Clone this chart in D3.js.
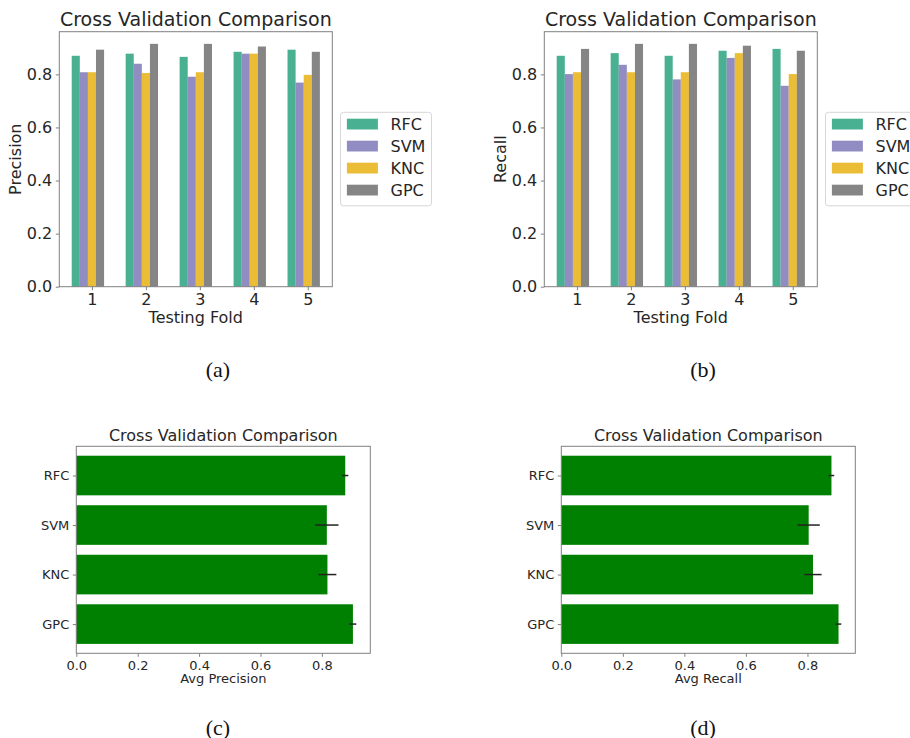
<!DOCTYPE html>
<html>
<head>
<meta charset="utf-8">
<script src="https://cdn.jsdelivr.net/npm/d3@7"></script>
<style>
  body { margin: 0; background: #fff; }
  text { font-family: "DejaVu Sans", sans-serif; fill: #262626; }
  .caption { font-family: "Liberation Serif", serif; fill: #111; }
</style>
</head>
<body>
<svg id="fig" width="910" height="738"></svg>
<script>
// ---- data ----
var folds = [1, 2, 3, 4, 5];
var models = ["RFC", "SVM", "KNC", "GPC"];
var modelColors = ["#1b9e77", "#7570b3", "#e6ab02", "#666666"];

// per-fold precision
var precRFC = [0.870, 0.878, 0.866, 0.885, 0.893];
var precSVM = [0.808, 0.840, 0.791, 0.878, 0.769];
var precKNC = [0.808, 0.805, 0.808, 0.878, 0.798];
var precGPC = [0.893, 0.915, 0.915, 0.905, 0.885];

// per-fold recall
var recRFC = [0.870, 0.880, 0.870, 0.889, 0.896];
var recSVM = [0.801, 0.836, 0.781, 0.862, 0.757];
var recKNC = [0.808, 0.808, 0.808, 0.880, 0.801];
var recGPC = [0.896, 0.915, 0.915, 0.908, 0.889];

// averages with error bars
var avgPrecision = [0.876, 0.816, 0.818, 0.901];
var precisionErr = [0.010, 0.038, 0.029, 0.011];
var avgRecall = [0.878, 0.804, 0.818, 0.901];
var recallErr = [0.009, 0.036, 0.028, 0.009];

var valueTicks = [0, 0.2, 0.4, 0.6, 0.8];
var title = "Cross Validation Comparison";

var svg = d3.select("#fig");

// draw a plain matplotlib-like frame around an axes
function frame(g, w, h) {
  g.append("rect")
    .attr("x", 0).attr("y", 0).attr("width", w).attr("height", h)
    .attr("fill", "none").attr("stroke", "#808080").attr("stroke-width", 1);
}

function styleAxis(sel, fontSize) {
  sel.select(".domain").remove();
  sel.selectAll(".tick line").attr("stroke", "#808080");
  sel.selectAll(".tick text")
    .attr("fill", "#262626")
    .style("font-family", "DejaVu Sans")
    .style("font-size", fontSize + "px");
}

// grouped bars per fold, panels (a) and (b)
function drawFolds(left, top, series, ylabel) {
  var w = 273, h = 255;
  var g = svg.append("g").attr("transform", "translate(" + left + "," + top + ")");

  var barW = 0.15;
  var x = d3.scaleLinear().domain([0.395, 5.455]).range([0, w]);
  var ymax = d3.max(series, function (s) { return d3.max(s); }) * 1.05;
  var y = d3.scaleLinear().domain([0, ymax]).range([h, 0]);

  series.forEach(function (vals, k) {
    g.append("g").selectAll("rect")
      .data(vals)
      .enter()
      .append("rect")
        .attr("x", function (d, i) { return x(folds[i] + (k - 2) * barW - barW / 2); })
        .attr("width", x(barW) - x(0))
        .attr("y", function (d) { return y(d); })
        .attr("height", function (d) { return h - y(d); })
        .attr("fill", modelColors[k])
        .attr("fill-opacity", 0.8);
  });

  frame(g, w, h);

  var xAxis = g.append("g")
    .attr("transform", "translate(0," + h + ")")
    .call(d3.axisBottom(x).tickValues(folds).tickFormat(d3.format("d")).tickSize(3.5).tickPadding(3.5));
  styleAxis(xAxis, 16);

  var yAxis = g.append("g")
    .call(d3.axisLeft(y).tickValues(valueTicks).tickFormat(d3.format(".1f")).tickSize(3.5).tickPadding(3.5));
  styleAxis(yAxis, 16);

  g.append("text")
    .attr("x", w / 2).attr("y", -6)
    .attr("text-anchor", "middle")
    .style("font-size", "19px")
    .text(title);

  g.append("text")
    .attr("x", w / 2).attr("y", h + 36.5)
    .attr("text-anchor", "middle")
    .style("font-size", "16px")
    .text("Testing Fold");

  g.append("text")
    .attr("transform", "translate(-38.3," + (h / 2) + ") rotate(-90)")
    .attr("text-anchor", "middle")
    .style("font-size", "16px")
    .text(ylabel);

  // legend outside to the right
  var lg = g.append("g").attr("transform", "translate(" + (w + 8.2) + ",80.6)");
  lg.append("rect")
    .attr("width", 91).attr("height", 93.5)
    .attr("rx", 3)
    .attr("fill", "#fff").attr("fill-opacity", 0.8)
    .attr("stroke", "#d6d6d6");
  models.forEach(function (m, i) {
    var cy = 11.8 + i * 22;
    lg.append("rect")
      .attr("x", 6.4).attr("y", cy - 5.4)
      .attr("width", 31).attr("height", 10.8)
      .attr("fill", modelColors[i]).attr("fill-opacity", 0.8);
    lg.append("text")
      .attr("x", 50).attr("y", cy)
      .attr("dominant-baseline", "central")
      .style("font-size", "16px")
      .text(m);
  });
}

// horizontal mean bars with error bars, panels (c) and (d)
function drawAverages(left, top, vals, errs, xlabel) {
  var w = 294, h = 207;
  var g = svg.append("g").attr("transform", "translate(" + left + "," + top + ")");

  var xmax = d3.max(vals, function (d, i) { return d + errs[i]; }) * 1.05;
  var x = d3.scaleLinear().domain([0, xmax]).range([0, w]);
  var y = d3.scaleLinear().domain([-0.59, 3.59]).range([0, h]);
  var bh = y(0.8) - y(0);

  g.append("g").selectAll("rect")
    .data(vals)
    .enter()
    .append("rect")
      .attr("x", x(0))
      .attr("y", function (d, i) { return y(i) - bh / 2; })
      .attr("width", function (d) { return x(d) - x(0); })
      .attr("height", bh)
      .attr("fill", "#008000");

  g.append("g").selectAll("line")
    .data(vals)
    .enter()
    .append("line")
      .attr("x1", function (d, i) { return x(d - errs[i]); })
      .attr("x2", function (d, i) { return x(d + errs[i]); })
      .attr("y1", function (d, i) { return y(i); })
      .attr("y2", function (d, i) { return y(i); })
      .attr("stroke", "#222")
      .attr("stroke-width", 1.5);

  frame(g, w, h);

  var xAxis = g.append("g")
    .attr("transform", "translate(0," + h + ")")
    .call(d3.axisBottom(x).tickValues(valueTicks).tickFormat(d3.format(".1f")).tickSize(3.5).tickPadding(3.5));
  styleAxis(xAxis, 13);

  var yAxis = g.append("g")
    .call(d3.axisLeft(y).tickValues([0, 1, 2, 3]).tickFormat(function (d) { return models[d]; }).tickSize(3.5).tickPadding(3.5));
  styleAxis(yAxis, 13);

  g.append("text")
    .attr("x", w / 2).attr("y", -5.6)
    .attr("text-anchor", "middle")
    .style("font-size", "16px")
    .text(title);

  g.append("text")
    .attr("x", w / 2).attr("y", h + 30)
    .attr("text-anchor", "middle")
    .style("font-size", "13px")
    .text(xlabel);
}

drawFolds(59.3, 31.7, [precRFC, precSVM, precKNC, precGPC], "Precision");
drawFolds(544.3, 31.7, [recRFC, recSVM, recKNC, recGPC], "Recall");
drawAverages(76.3, 446.3, avgPrecision, precisionErr, "Avg Precision");
drawAverages(561.3, 446.3, avgRecall, recallErr, "Avg Recall");

// sub-figure captions
var captions = [["(a)", 218, 369], ["(b)", 703, 369], ["(c)", 218, 727], ["(d)", 703, 727]];
captions.forEach(function (c) {
  svg.append("text")
    .attr("class", "caption")
    .attr("x", c[1]).attr("y", c[2])
    .attr("text-anchor", "middle")
    .attr("dominant-baseline", "central")
    .style("font-size", "22px")
    .text(c[0]);
});
</script>
</body>
</html>
